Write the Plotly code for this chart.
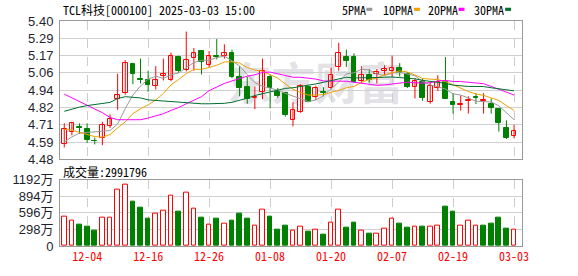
import plotly.graph_objects as go

dates = ["11-29",
         "12-02", "12-03", "12-04", "12-05", "12-06", "12-09", "12-10", "12-11", "12-12", "12-13",
         "12-16", "12-17", "12-18", "12-19", "12-20", "12-23", "12-24", "12-25", "12-26", "12-27",
         "12-30", "12-31",
         "01-02", "01-03", "01-06", "01-07", "01-08", "01-09", "01-10", "01-13", "01-14", "01-15",
         "01-16", "01-17", "01-20", "01-21", "01-22", "01-23", "01-24", "01-27",
         "02-05", "02-06", "02-07", "02-10", "02-11", "02-12", "02-13", "02-14", "02-17", "02-18",
         "02-19", "02-20", "02-21", "02-24", "02-25", "02-26", "02-27", "02-28",
         "03-03"]

opens = [4.58, 4.66, 4.695, 4.68, 4.605, 4.62, 4.70, 4.88, 4.92, 5.115,
         5.015, 5.01, 4.965, 5.035, 5.005, 5.16, 5.075, 5.155, 5.20, 5.11,
         5.17, 5.165, 5.19, 5.03, 4.96, 4.89, 4.925, 5.025, 4.93, 4.92,
         4.74, 4.795, 4.96, 4.895, 4.925, 4.955, 5.095, 5.16, 5.16, 5.00,
         5.04, 5.05, 5.07, 5.07, 5.085, 5.045, 4.96, 4.995, 4.86, 4.955,
         4.995, 4.86, 4.84, 4.868, 4.893, 4.868, 4.85, 4.815, 4.69, 4.635]
highs = [4.72, 4.73, 4.72, 4.72, 4.625, 4.73, 4.78, 5.05, 5.14, 5.115,
         5.15, 5.07, 5.10, 5.15, 5.19, 5.17, 5.33, 5.22, 5.20, 5.20,
         5.28, 5.245, 5.21, 5.10, 5.03, 4.965, 5.15, 5.045, 4.955, 4.925,
         4.86, 4.98, 4.97, 4.97, 4.96, 5.09, 5.255, 5.21, 5.185, 5.10,
         5.08, 5.08, 5.105, 5.17, 5.12, 5.06, 5.02, 5.02, 4.995, 5.04,
         5.16, 4.92, 4.905, 4.90, 4.92, 4.92, 4.885, 4.82, 4.74, 4.71]
lows = [4.56, 4.64, 4.65, 4.59, 4.58, 4.575, 4.69, 4.81, 4.91, 4.98,
        4.985, 4.93, 4.945, 5.005, 5.00, 5.055, 5.065, 5.07, 5.045, 5.09,
        5.145, 5.15, 5.02, 4.90, 4.85, 4.815, 4.88, 4.82, 4.89, 4.765,
        4.70, 4.79, 4.86, 4.875, 4.90, 4.945, 5.07, 5.095, 4.99, 4.985,
        4.99, 4.985, 5.04, 5.03, 5.03, 4.955, 4.885, 4.87, 4.85, 4.935,
        4.885, 4.785, 4.805, 4.785, 4.848, 4.785, 4.785, 4.665, 4.615, 4.62]
closes = [4.68, 4.72, 4.69, 4.61, 4.60, 4.71, 4.75, 4.91, 5.12, 5.05,
          5.01, 4.975, 5.01, 5.05, 5.17, 5.07, 5.14, 5.19, 5.125, 5.17,
          5.16, 5.19, 5.03, 4.955, 4.885, 4.895, 5.065, 4.955, 4.905, 4.775,
          4.81, 4.97, 4.865, 4.955, 4.92, 5.04, 5.19, 5.135, 4.995, 5.04,
          5.01, 5.06, 5.08, 5.085, 5.055, 4.96, 5.00, 4.89, 4.97, 4.995,
          4.885, 4.84, 4.85, 4.872, 4.889, 4.872, 4.825, 4.725, 4.625, 4.67]
volumes = [5350000, 4610000, 3860000, 3450000, 2820000, 5180000, 5010000, 10190000, 11060000, 7950000,
           6910000, 4840000, 5820000, 6390000, 8980000, 6220000, 9670000, 6740000, 5010000, 3800000,
           4840000, 3970000, 4490000, 5870000, 4840000, 3630000, 6510000, 5350000, 2940000, 3630000,
           2760000, 3400000, 2590000, 2880000, 2070000, 4260000, 6510000, 3280000, 4150000, 2710000,
           2250000, 2190000, 3050000, 4950000, 3970000, 3280000, 3400000, 3400000, 3400000, 3630000,
           7080000, 6220000, 3740000, 4610000, 3740000, 3630000, 3970000, 5180000, 3050000, 2991796]
# volume bar colour as drawn: 1 = red (up), 0 = green (down)
vol_up = [1, 1, 0, 0, 0, 1, 1, 1, 1, 0,
          0, 0, 1, 1, 1, 0, 1, 1, 0, 1,
          0, 1, 0, 0, 0, 1, 1, 0, 0, 0,
          1, 1, 0, 1, 0, 1, 1, 0, 0, 1,
          0, 1, 1, 1, 0, 0, 1, 0, 1, 1,
          0, 0, 1, 1, 1, 0, 0, 0, 0, 1]

ma5_head = [4.595, 4.63, 4.655, 4.66]
ma10_head = [4.68, 4.675, 4.66, 4.645, 4.632, 4.628, 4.645, 4.69, 4.73]
ma20_head = [4.914, 4.89, 4.867, 4.844, 4.815, 4.791, 4.759, 4.744, 4.744, 4.744,
             4.744, 4.755, 4.77, 4.784, 4.806, 4.825, 4.85, 4.876, 4.897]
ma30_head = [4.80, 4.816, 4.828, 4.838, 4.845, 4.85, 4.859, 4.885, 4.897, 4.893,
             4.889, 4.876, 4.872, 4.866, 4.865, 4.863, 4.857, 4.853, 4.85, 4.85,
             4.85, 4.853, 4.86, 4.872, 4.887, 4.905, 4.917, 4.928, 4.936]

price_ticks = ["4.48", "4.59", "4.71", "4.82", "4.94", "5.06", "5.17", "5.29", "5.40"]
vol_ticks = ["0", "298万", "596万", "894万", "1192万"]
ma_names = ["5PMA", "10PMA", "20PMA", "30PMA"]

RED = "#ff0000"
GREEN = "#008000"
MA_COLORS = ["#999999", "#f0a000", "#ff00ff", "#006e2e"]
MONO = "Noto Sans Mono CJK SC, Liberation Mono, monospace"
SANS = "Liberation Sans, Arial, Noto Sans CJK SC"


def rolling(vals, w, head):
    out = list(head)
    for i in range(len(head), len(vals)):
        out.append(sum(vals[i - w + 1:i + 1]) / w)
    return out


n = len(closes)
idx = list(range(n))
up = [c >= o for o, c in zip(opens, closes)]

fig = go.Figure()

# wicks
for flag, col in ((True, RED), (False, GREEN)):
    xs, ys = [], []
    for i in idx:
        if up[i] == flag:
            xs += [i, i, None]
            ys += [lows[i], highs[i], None]
    fig.add_trace(go.Scatter(x=xs, y=ys, mode="lines", line=dict(color=col, width=1),
                             hoverinfo="skip", showlegend=False, xaxis="x", yaxis="y"))

# bodies
fig.add_trace(go.Bar(
    x=idx,
    base=[min(o, c) for o, c in zip(opens, closes)],
    y=[max(abs(c - o), 0.002) for o, c in zip(opens, closes)],
    width=0.62,
    marker=dict(color=["white" if u else GREEN for u in up],
                line=dict(color=[RED if u else GREEN for u in up], width=1)),
    hoverinfo="skip", showlegend=False, xaxis="x", yaxis="y"))

# moving averages
mas = [rolling(closes, 5, ma5_head), rolling(closes, 10, ma10_head),
       rolling(closes, 20, ma20_head), rolling(closes, 30, ma30_head)]
for vals, col in zip(mas, MA_COLORS):
    fig.add_trace(go.Scatter(x=idx, y=vals, mode="lines", line=dict(color=col, width=1),
                             hoverinfo="skip", showlegend=False, xaxis="x", yaxis="y"))

# volume
fig.add_trace(go.Bar(
    x=idx, y=volumes, width=0.62,
    marker=dict(color=["white" if u else GREEN for u in vol_up],
                line=dict(color=[RED if u else GREEN for u in vol_up], width=1)),
    hoverinfo="skip", showlegend=False, xaxis="x2", yaxis="y2"))

tick_idx = list(range(3, n, 8))
tick_txt = [dates[i] for i in tick_idx]

L, R, T, B = 56, 56, 21, 21
W, H = 578, 276
PW, PH = W - L - R, H - T - B


def PX(x):
    return (x - L) / PW


def PY(y):
    return (H - B - y) / PH


pmin, pmax = float(price_ticks[0]), float(price_ticks[-1])
pstep = (pmax - pmin) / (len(price_ticks) - 1)
vmax = 11920000

common_x = dict(range=[-0.56, n + 0.04], tickvals=tick_idx, showgrid=True, griddash="dash",
                gridcolor="#cccccc", gridwidth=1, showline=True, mirror=True, linecolor="#999999",
                linewidth=1, zeroline=False, ticks="", fixedrange=True)

fig.update_layout(
    width=W, height=H, margin=dict(l=L, r=R, t=T, b=B, pad=0),
    paper_bgcolor="white", plot_bgcolor="rgba(0,0,0,0)",
    showlegend=False, barmode="overlay", bargap=0,
    xaxis=dict(anchor="y", showticklabels=False, **common_x),
    xaxis2=dict(anchor="y2", ticktext=tick_txt, showticklabels=True,
                tickfont=dict(family=MONO, size=12, color=RED), **common_x),
    yaxis=dict(domain=[PY(165), 1], range=[pmin, pmax],
               tickvals=[pmin + k * pstep for k in range(len(price_ticks))], ticktext=price_ticks,
               showgrid=True, gridcolor="#d0d0d0", gridwidth=1, showline=True, mirror=True,
               linecolor="#999999", linewidth=1, zeroline=False, ticks="",
               tickfont=dict(family=SANS, size=13, color="#1f1f2f"), ticklabelstandoff=3),
    yaxis2=dict(domain=[0, PY(186)], range=[0, vmax],
                tickvals=[k * vmax / 4 for k in range(5)], ticktext=vol_ticks,
                showgrid=True, gridcolor="#d0d0d0", gridwidth=1, showline=True, mirror=True,
                linecolor="#999999", linewidth=1, zeroline=False, ticks="",
                tickfont=dict(family=SANS, size=13, color="#1f1f2f"), ticklabelstandoff=3),
)

ann = [
    dict(x=PX(57), y=PY(9), text="TCL科技[000100] 2025-03-03 15:00"),
    dict(x=PX(57), y=PY(177), text="成交量:" + str(volumes[-1])),
]
shapes = []
lx = [338, 380, 425, 472]
for name, col, x0 in zip(ma_names, MA_COLORS, lx):
    ann.append(dict(x=PX(x0), y=PY(9), text=name))
    sx = x0 + 6 * len(name) + 3
    shapes.append(dict(type="rect", xref="paper", yref="paper", x0=PX(sx), x1=PX(sx + 6),
                       y0=PY(10.5), y1=PY(7.2), fillcolor=col, line=dict(width=0)))
for a in ann:
    a.update(xref="paper", yref="paper", xanchor="left", yanchor="middle", showarrow=False,
             font=dict(family=MONO, size=12, color="#000000"))

# watermark behind the marks
shapes.append(dict(type="rect", xref="paper", yref="paper", x0=PX(245), x1=PX(382),
                   y0=PY(112), y1=PY(70), line=dict(width=0), fillcolor="rgba(0,0,0,0)",
                   layer="below",
                   label=dict(text="<b>东方财富</b>", font=dict(family="Noto Sans CJK SC", size=44,
                                                              color="#e3e3e7"))))

fig.update_layout(annotations=ann, shapes=shapes)
fig.write_html("out.html")
